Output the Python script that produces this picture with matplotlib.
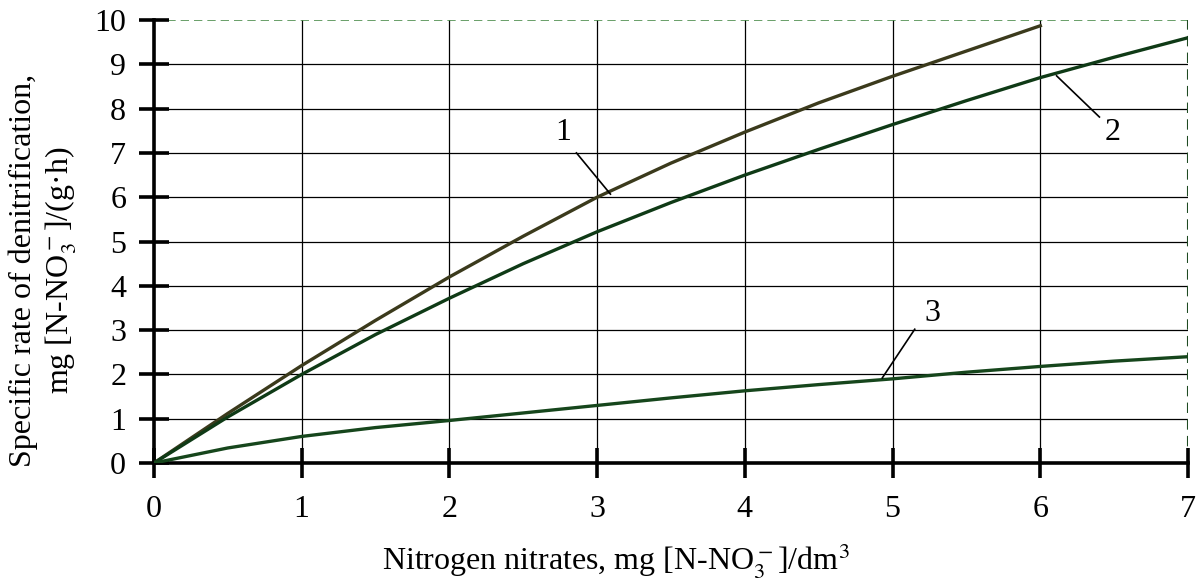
import matplotlib.pyplot as plt

plt.rcParams['font.family'] = ['Liberation Serif', 'DejaVu Serif']
plt.rcParams['mathtext.fontset'] = 'stix'

# data
x1 = [0, 0.5, 1, 1.5, 2, 2.5, 3, 3.5, 4, 4.5, 5, 5.5, 6]
y1 = [0, 1.12, 2.2, 3.22, 4.2, 5.12, 6.0, 6.77, 7.47, 8.13, 8.73, 9.3, 9.87]

x2 = [0, 0.5, 1, 1.5, 2, 2.5, 3, 3.5, 4, 4.5, 5, 5.5, 6, 6.5, 7]
y2 = [0, 1.04, 2.0, 2.9, 3.72, 4.5, 5.22, 5.88, 6.5, 7.08, 7.64, 8.18, 8.7, 9.16, 9.6]

x3 = [0, 0.5, 1, 1.5, 2, 2.5, 3, 3.5, 4, 4.5, 5, 5.5, 6, 6.5, 7]
y3 = [0, 0.34, 0.6, 0.8, 0.96, 1.13, 1.3, 1.47, 1.63, 1.77, 1.9, 2.05, 2.18, 2.3, 2.4]

curve_labels = ['1', '2', '3']
label_pos = [(2.77, 7.45), (6.49, 7.45), (5.27, 3.38)]
leader_from = [(2.86, 7.0), (6.11, 8.74), (4.93, 1.92)]
leader_to = [(3.09, 6.07), (6.40, 7.81), (5.15, 3.02)]

fig = plt.figure(figsize=(11.98, 5.83), dpi=100)
ax = fig.add_axes([0.1285, 0.2058, 0.8632, 0.7599])

ax.plot(x1, y1, color='#3b3a1c', lw=2.4, zorder=3)
ax.plot(x2, y2, color='#0f3a16', lw=2.4, zorder=3)
ax.plot(x3, y3, color='#16461c', lw=2.4, zorder=3)

for lab, (tx, ty), (ax0, ay0), (ax1, ay1) in zip(curve_labels, label_pos, leader_from, leader_to):
    ax.text(tx, ty, lab, fontsize=23, ha='center', va='center')
    ax.plot([ax0, ax1], [ay0, ay1], color='black', lw=1.2, zorder=3)

ax.set_xlim(0, 7)
ax.set_ylim(0, 10)
ax.set_xticks(range(8))
ax.set_yticks(range(11))

for v in range(1, 10):
    ax.axhline(v, color='black', lw=0.9, zorder=1)
for v in range(1, 7):
    ax.axvline(v, color='black', lw=0.9, zorder=1)
ax.axhline(10, color='#4f8f4f', lw=1.2, ls=(0, (5, 3)), zorder=1)
ax.axvline(7, color='#1f4a22', lw=1.5, ls=(0, (5, 3)), zorder=1)

for s in ['top', 'right']:
    ax.spines[s].set_visible(False)
for s in ['left', 'bottom']:
    ax.spines[s].set_linewidth(2.6)

ax.tick_params(axis='both', direction='inout', length=22, width=2.6, labelsize=23)
ax.tick_params(axis='x', pad=12)
ax.tick_params(axis='y', pad=9)

ax.set_xlabel(r'Nitrogen nitrates, mg [N-NO$_3^-$]/dm$^3$', fontsize=23)
ax.xaxis.set_label_coords(0.447, -0.176)
ax.set_ylabel('Specific rate of denitrification,\n' + r'mg [N-NO$_3^-$]/(g·h)', fontsize=23,
              linespacing=1.25)
ax.yaxis.set_label_coords(-0.072, 0.435)

fig.savefig('out.png', dpi=100)
